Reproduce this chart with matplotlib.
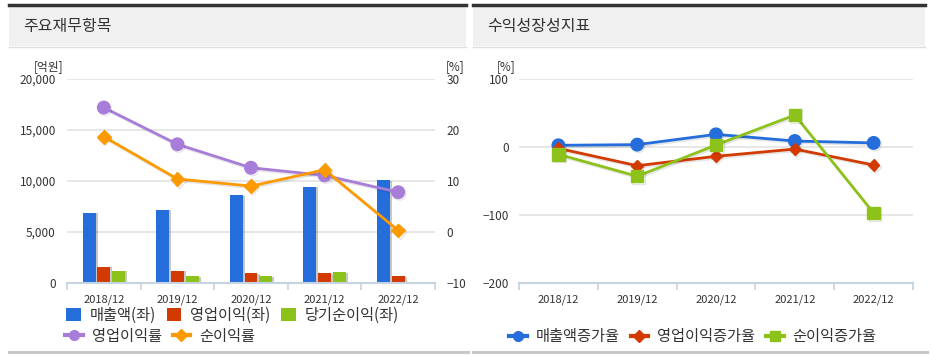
import numpy as np
import matplotlib
matplotlib.use("Agg")
import matplotlib.pyplot as plt
import matplotlib.patheffects as pe
from matplotlib.patches import Rectangle, Patch
from matplotlib.lines import Line2D
from matplotlib.ticker import FuncFormatter, FixedLocator

plt.rcParams['font.family'] = ['Noto Sans CJK KR', 'DejaVu Sans']

# ── data ───────────────────────────────────────
years = ["2018/12", "2019/12", "2020/12", "2021/12", "2022/12"]

revenue    = [6900, 7180, 8630, 9440, 10100]   # 매출액 [억원]
op_income  = [1600, 1210, 950, 950, 690]       # 영업이익
net_income = [1210, 650, 650, 1080, 50]        # 당기순이익
op_margin  = [24.4, 17.2, 12.6, 11.1, 7.8]     # 영업이익률 [%]
net_margin = [18.7, 10.4, 9.0, 12.2, 0.3]      # 순이익률 [%]

rev_growth = [2.5, 3.5, 18.6, 8.8, 6.0]        # 매출액증가율 [%]
op_growth  = [-2.0, -27.5, -13.7, -3.0, -26.5] # 영업이익증가율
net_growth = [-10.8, -43.0, 3.0, 47.0, -97.0]  # 순이익증가율

BLUE   = "#246ddb"
RED    = "#d33a02"
GREEN  = "#8cc21a"
PURPLE = "#a77dd9"
ORANGE = "#fd9a01"
TXT    = "#333333"

W, H = 932, 356
fig = plt.figure(figsize=(W / 100, H / 100), dpi=100)


def fx(px):
    return px / W


def fy(py):
    return 1 - py / H


def px_axes(l, t, r, b):
    return fig.add_axes([fx(l), fy(b), fx(r - l), (b - t) / H])


def panel_frame(x0, x1, title):
    # header band with dark top rule
    fig.patches.append(Rectangle((fx(x0), fy(46)), fx(x1 - x0), (46 - 5) / H,
                                 transform=fig.transFigure, facecolor="#f0f0f0",
                                 edgecolor="none", zorder=0))
    fig.add_artist(Line2D([fx(x0), fx(x1)], [fy(5), fy(5)], color="#333333", lw=2.5))
    fig.add_artist(Line2D([fx(x0), fx(x1)], [fy(46.5), fy(46.5)], color="#dddddd", lw=1))
    fig.text(fx(x0 + 14), fy(27), title, fontsize=11.5, color=TXT, va="center")
    # bottom rule
    fig.add_artist(Line2D([fx(x0), fx(x1 + 2)], [fy(351.5), fy(351.5)],
                          color="#c8c8c8", lw=2.2))


def style_axes(ax, ypad=8):
    ax.set_xlim(-0.5, len(years) - 0.5)
    ax.set_xticks(range(len(years)))
    ax.set_xticklabels(years, fontsize=8, color=TXT)
    ax.xaxis.set_minor_locator(FixedLocator(np.arange(-0.5, len(years), 1.0)))
    ax.tick_params(axis="x", which="major", length=0, pad=8)
    ax.tick_params(axis="x", which="minor", length=5, color="#c5d3e3", width=1.2)
    ax.tick_params(axis="y", length=0, labelsize=8.5, labelcolor=TXT, pad=ypad)
    for s in ["top", "left", "right"]:
        ax.spines[s].set_visible(False)
    ax.spines["bottom"].set_color("#c5d3e3")
    ax.spines["bottom"].set_linewidth(1.5)
    ax.grid(axis="y", color="#e3e3e3", lw=1.2)
    ax.set_axisbelow(True)


shadow_line = [pe.SimpleLineShadow(offset=(1, -1.2), shadow_color="k", alpha=0.1),
               pe.Normal()]

leg_kw = dict(loc="center left", frameon=False, fontsize=11, borderaxespad=0,
              handletextpad=0.6, columnspacing=0.7, labelcolor=TXT)

# ── left panel: 주요재무항목 ─────────────────────
panel_frame(9, 466, "주요재무항목")
ax = px_axes(67, 79, 435, 283)
style_axes(ax, ypad=8)
ax.set_ylim(0, 20000)
ax.set_yticks(range(0, 20001, 5000))
ax.yaxis.set_major_formatter(FuncFormatter(lambda v, p: f"{int(v):,}"))

x = np.arange(len(years))
bw = 0.175
bar_shadow = [pe.SimplePatchShadow(offset=(1.5, -0.5), shadow_rgbFace="k", alpha=0.22),
              pe.Normal()]
for off, vals, col in [(-0.2, revenue, BLUE), (0.0, op_income, RED), (0.2, net_income, GREEN)]:
    bars = ax.bar(x + off, vals, width=bw, color=col, zorder=2)
    for b in bars:
        b.set_path_effects(bar_shadow)

ax2 = ax.twinx()
ax2.set_ylim(-10, 30)
ax2.set_yticks(range(-10, 31, 10))
ax2.tick_params(axis="y", length=0, labelsize=8.5, labelcolor=TXT, pad=8.5)
for s in ["top", "left", "right", "bottom"]:
    ax2.spines[s].set_visible(False)
ax2.plot(x, op_margin, color=PURPLE, lw=2, marker="o", ms=9, zorder=3,
         path_effects=shadow_line)
ax2.plot(x, net_margin, color=ORANGE, lw=2, marker="D", ms=7, zorder=4,
         path_effects=shadow_line)

fig.text(fx(63), fy(67), "[억원]", fontsize=8.5, color=TXT, ha="right", va="center")
fig.text(fx(446), fy(67), "[%]", fontsize=8.5, color=TXT, ha="left", va="center")

h1 = [Patch(facecolor=BLUE, label="매출액(좌)"),
      Patch(facecolor=RED, label="영업이익(좌)"),
      Patch(facecolor=GREEN, label="당기순이익(좌)")]
fig.legend(handles=h1, bbox_to_anchor=(fx(60), fy(315)), ncol=3,
           handlelength=0.95, handleheight=0.95, **leg_kw)
h2 = [Line2D([], [], color=PURPLE, lw=3, marker="o", ms=7, label="영업이익률"),
      Line2D([], [], color=ORANGE, lw=3, marker="D", ms=6, label="순이익률")]
fig.legend(handles=h2, bbox_to_anchor=(fx(59), fy(336)), ncol=2,
           handlelength=1.15, **leg_kw)

# ── right panel: 수익성장성지표 ─────────────────
panel_frame(473, 925, "수익성장성지표")
axr = px_axes(519, 79, 913, 283)
style_axes(axr, ypad=7.5)
axr.set_ylim(-200, 100)
axr.set_yticks([-200, -100, 0, 100])

axr.plot(x, rev_growth, color=BLUE, lw=2, marker="o", ms=9, zorder=3,
         path_effects=shadow_line)
axr.plot(x, op_growth, color=RED, lw=2, marker="D", ms=6, zorder=3,
         path_effects=shadow_line)
axr.plot(x, net_growth, color=GREEN, lw=2, marker="s", ms=9, zorder=4,
         path_effects=shadow_line)

fig.text(fx(497), fy(67), "[%]", fontsize=8.5, color=TXT, ha="left", va="center")

h3 = [Line2D([], [], color=BLUE, lw=3, marker="o", ms=7, label="매출액증가율"),
      Line2D([], [], color=RED, lw=3, marker="D", ms=6, label="영업이익증가율"),
      Line2D([], [], color=GREEN, lw=3, marker="s", ms=7, label="순이익증가율")]
fig.legend(handles=h3, bbox_to_anchor=(fx(503), fy(337)), ncol=3,
           handlelength=1.15, **leg_kw)

fig.savefig("out.png", dpi=100)
